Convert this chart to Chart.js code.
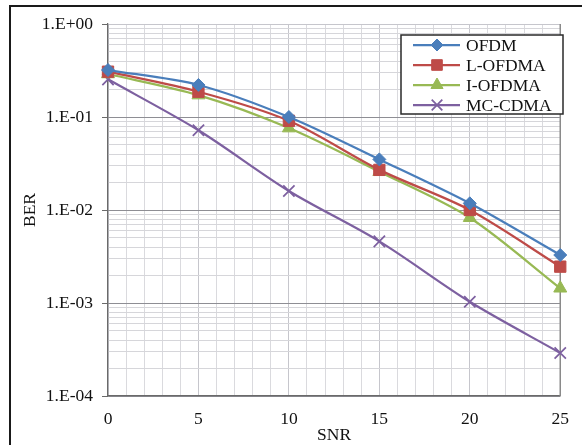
<!DOCTYPE html>
<html>
<head>
<meta charset="utf-8">
<script src="https://cdn.jsdelivr.net/npm/chart.js@4.4.1/dist/chart.umd.min.js"></script>
<style>
    html, body { margin: 0; padding: 0; background: #fff; overflow: hidden; }
    #wrap { position: relative; width: 582px; height: 445px; }
    #frame { position: absolute; left: 9px; top: 5px; width: 600px; height: 460px; border-left: 2px solid #1a1a1a; border-top: 2px solid #1a1a1a; }
    #berChart { position: absolute; left: 0; top: 0; }
</style>
</head>
<body>
<div id="wrap">
    <div id="frame"></div>
    <canvas id="berChart" width="582" height="445"></canvas>
</div>
<script>
// Values
const snr = [0, 5, 10, 15, 20, 25];
const berOfdm = [0.32, 0.221, 0.100, 0.035, 0.0118, 0.00328];
const berLOfdma = [0.307, 0.187, 0.091, 0.027, 0.0100, 0.00246];
const berIOfdma = [0.29, 0.172, 0.076, 0.0258, 0.00826, 0.00144];
const berMcCdma = [0.254, 0.072, 0.016, 0.0046, 0.00103, 0.00029];

const seriesNames = ['OFDM', 'L-OFDMA', 'I-OFDMA', 'MC-CDMA'];
const yMajorTicks = [1e-4, 1e-3, 1e-2, 1e-1, 1];
const xLabelTicks = [0, 5, 10, 15, 20, 25];

const FONT = 'Liberation Serif, Times New Roman, serif';

// every 1..9 step inside each decade, like the Excel gridlines
const yAllTicks = [];
for (let d = 0; d < yMajorTicks.length - 1; d++) {
    for (let m = 1; m < 10; m++) yAllTicks.push(+(yMajorTicks[d] * m).toPrecision(3));
}
yAllTicks.push(yMajorTicks[yMajorTicks.length - 1]);

function isMajorY(v) {
    return yMajorTicks.some(t => Math.abs(t - v) / t < 1e-6);
}

function fmtExp(v) {
    const e = Math.round(Math.log10(v));
    return '1.E' + (e < 0 ? '-' : '+') + String(Math.abs(e)).padStart(2, '0');
}

function toPoints(ys) {
    return snr.map((x, i) => ({ x: x, y: ys[i] }));
}

// legend drawn as a boxed list, line + marker per row
const boxLegend = {
    id: 'boxLegend',
    afterDatasetsDraw(chart) {
        const ctx = chart.ctx;
        const left = 401, top = 35, w = 162, h = 79;
        ctx.save();
        ctx.fillStyle = '#fff';
        ctx.fillRect(left, top, w, h);
        ctx.strokeStyle = '#2a2a2a';
        ctx.lineWidth = 1.5;
        ctx.strokeRect(left, top, w, h);
        chart.data.datasets.forEach((ds, i) => {
            const y = top + 10 + i * 20;
            ctx.strokeStyle = ds.borderColor;
            ctx.lineWidth = 2.25;
            ctx.beginPath();
            ctx.moveTo(413, y);
            ctx.lineTo(460, y);
            ctx.stroke();
            ctx.fillStyle = ds.pointBackgroundColor;
            ctx.strokeStyle = ds.pointBorderColor;
            ctx.lineWidth = ds.pointBorderWidth;
            Chart.helpers.drawPoint(ctx, { pointStyle: ds.pointStyle, radius: ds.pointRadius - 0.5, rotation: 0, borderWidth: ds.pointBorderWidth }, 437, y);
            ctx.fillStyle = '#111';
            ctx.font = '17.5px ' + FONT;
            ctx.textBaseline = 'middle';
            ctx.textAlign = 'left';
            ctx.fillText(ds.label, 466, y + 1);
        });
        ctx.restore();
    }
};

// right edge of the plot area
const plotEdge = {
    id: 'plotEdge',
    beforeDatasetsDraw(chart) {
        const a = chart.chartArea;
        const ctx = chart.ctx;
        ctx.save();
        ctx.strokeStyle = '#8a8a8a';
        ctx.lineWidth = 1.5;
        ctx.beginPath();
        ctx.moveTo(a.right, a.top);
        ctx.lineTo(a.right, a.bottom);
        ctx.stroke();
        ctx.restore();
    }
};

const colors = ['#4A7EBB', '#BE4B48', '#98B954', '#7D60A0'];
const styles = ['rectRot', 'rect', 'triangle', 'crossRot'];
const radii = [6.5, 8, 7.5, 8];
const seriesData = [berOfdm, berLOfdma, berIOfdma, berMcCdma];

const datasets = seriesNames.map((name, i) => ({
    label: name,
    data: toPoints(seriesData[i]),
    borderColor: colors[i],
    backgroundColor: colors[i],
    pointBackgroundColor: colors[i],
    pointBorderColor: colors[i],
    pointBorderWidth: styles[i] === 'crossRot' ? 1.75 : 1,
    pointStyle: styles[i],
    pointRadius: radii[i],
    borderWidth: 2.25,
    tension: 0.3,
    fill: false,
    clip: false
}));

new Chart(document.getElementById('berChart'), {
    type: 'line',
    data: { datasets: datasets },
    options: {
        responsive: false,
        animation: false,
        layout: { padding: { top: 24, right: 12, left: 0, bottom: 0 } },
        plugins: {
            legend: { display: false },
            tooltip: { enabled: false }
        },
        scales: {
            x: {
                type: 'linear',
                min: 0,
                max: 25,
                afterFit: scale => { scale.height = 49; },
                afterBuildTicks: scale => {
                    const t = [];
                    for (let v = 0; v <= 25; v++) t.push({ value: v });
                    scale.ticks = t;
                },
                ticks: {
                    autoSkip: false,
                    maxRotation: 0,
                    padding: 13,
                    color: '#111',
                    font: { family: FONT, size: 17.5 },
                    callback: v => xLabelTicks.includes(v) ? String(v) : ''
                },
                grid: {
                    drawTicks: false,
                    color: ctx => {
                        const v = ctx.tick ? ctx.tick.value : 0;
                        if (v === 25) return '#8a8a8a';
                        return v % 5 === 0 ? '#c6c6cc' : '#dadade';
                    }
                },
                border: { color: '#6a6a6a', width: 1.25 },
                title: {
                    display: true,
                    text: 'SNR',
                    color: '#111',
                    font: { family: FONT, size: 17.5 },
                    padding: { top: 0, bottom: -1 }
                }
            },
            y: {
                type: 'logarithmic',
                min: 1e-4,
                max: 1,
                afterFit: scale => { scale.width = 108; },
                afterBuildTicks: scale => {
                    scale.ticks = yAllTicks.map(v => ({ value: v, major: isMajorY(v) }));
                },
                ticks: {
                    autoSkip: false,
                    padding: 9,
                    color: '#111',
                    font: { family: FONT, size: 17.5 },
                    callback: v => isMajorY(v) ? fmtExp(v) : ''
                },
                grid: {
                    tickLength: 6,
                    color: ctx => {
                        const v = ctx.tick ? ctx.tick.value : 0;
                        if (v === 1) return '#c6c6cc';
                        return isMajorY(v) ? '#8e8e94' : '#d6d6da';
                    },
                    tickColor: ctx => (ctx.tick && isMajorY(ctx.tick.value)) ? '#6a6a6a' : 'rgba(0,0,0,0)'
                },
                border: { color: '#6a6a6a', width: 1.25 },
                title: {
                    display: true,
                    text: 'BER',
                    color: '#111',
                    font: { family: FONT, size: 17.5 },
                    padding: { top: 20, bottom: 0 }
                }
            }
        }
    },
    plugins: [plotEdge, boxLegend]
});
</script>
</body>
</html>
